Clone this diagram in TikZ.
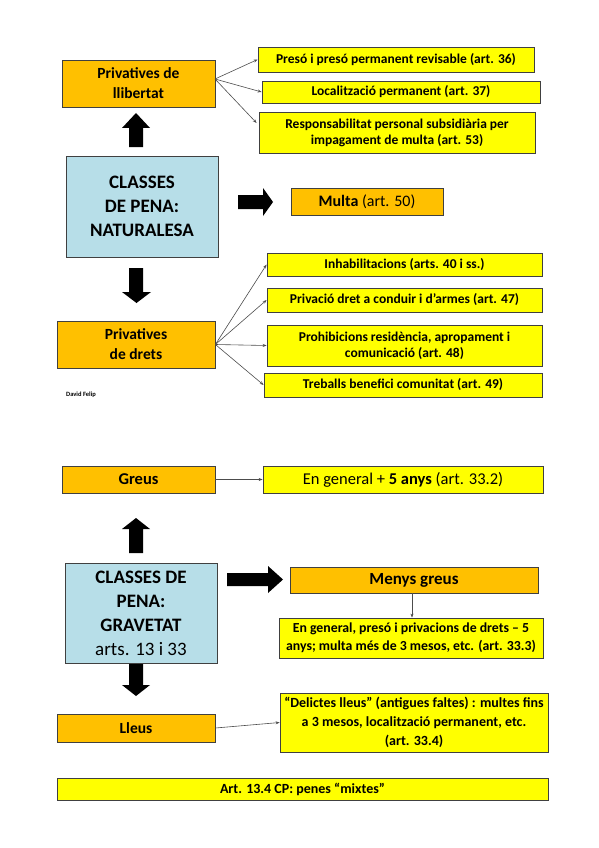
\documentclass[tikz,border=0pt]{standalone}
\usepackage{fontspec}
\setmainfont{Carlito}
\usetikzlibrary{arrows.meta,calc}
\definecolor{orng}{HTML}{FFC000}
\definecolor{ylw}{HTML}{FFFF00}
\definecolor{lblue}{HTML}{B7DEE8}
\begin{document}
\begin{tikzpicture}[x=1pt,y=-1pt,
  box/.style={draw=black!75, line width=0.8pt, inner sep=1pt, align=center},
  obox/.style={box, fill=orng, font=\fontsize{15.5}{20}\selectfont\bfseries},
  ybox/.style={box, fill=ylw, font=\fontsize{13.5}{16}\selectfont\bfseries},
  bbox/.style={box, fill=lblue, font=\fontsize{19}{24}\selectfont},
  con/.style={draw=black!70, line width=0.6pt, -{Stealth[length=4pt,width=3pt]}},
  blk/.style={fill=black}]
\useasboundingbox (0,0) rectangle (599,848);
% ---------- NATURALESA ----------
\node[obox, minimum width=153pt, minimum height=47pt] (pl) at (138.5,83.5) {Privatives de\\llibertat};
\node[ybox, minimum width=276pt, minimum height=25pt] (p1) at (396,59.5) {Presó i presó permanent revisable (art. 36)};
\node[ybox, minimum width=278pt, minimum height=22pt] (p2) at (401,92) {Localització permanent (art. 37)};
\node[ybox, minimum width=276pt, minimum height=41pt] (p3) at (397,132.5) {Responsabilitat personal subsidiària per\\impagament de multa (art. 53)};
\node[bbox, minimum width=152pt, minimum height=101pt] (nat) at (142,206.5) {\bfseries CLASSES\\\bfseries DE PENA:\\\bfseries NATURALESA};
\node[box, fill=orng, minimum width=152pt, minimum height=27pt, font=\fontsize{16}{19}\selectfont] (multa) at (367,201.5) {\textbf{Multa} (art. 50)};
\node[obox, minimum width=158pt, minimum height=47pt] (pd) at (136,344.5) {Privatives\\de drets};
\node[ybox, minimum width=275pt, minimum height=23pt] (d1) at (404.5,264.5) {Inhabilitacions (arts. 40 i ss.)};
\node[ybox, minimum width=275pt, minimum height=24pt] (d2) at (404.5,300) {Privació dret a conduir i d’armes (art. 47)};
\node[ybox, minimum width=275pt, minimum height=41pt] (d3) at (404.5,345.5) {Prohibicions residència, apropament i\\comunicació (art. 48)};
\node[ybox, minimum width=278pt, minimum height=24pt] (d4) at (403,385) {Treballs benefici comunitat (art. 49)};
\node[anchor=west, inner sep=0pt, font=\fontsize{6.5}{8}\selectfont\bfseries] (author) at (66,394.5) {David Felip};
\coordinate (po) at (215,79);
\draw[con] (po) -- (p1.west);
\draw[con] (po) -- (p2.west);
\draw[con] (po) -- ($(p3.west)+(-2,-9.5)$);
\draw[con] (pd.east) -- (d1.west);
\draw[con] (pd.east) -- (d2.west);
\draw[con] (pd.east) -- (d3.west);
\draw[con] (pd.east) -- (d4.west);
\fill[blk] (129,147) -- (129,128) -- (122,128) -- (136,113) -- (150,128) -- (143,128) -- (143,147) -- cycle;
\fill[blk] (238,195) -- (263,195) -- (263,188) -- (273,202) -- (263,216) -- (263,209) -- (238,209) -- cycle;
\fill[blk] (129,268) -- (143,268) -- (143,292) -- (151,292) -- (136.5,303) -- (122,292) -- (129,292) -- cycle;
% ---------- GRAVETAT ----------
\node[obox, minimum width=153pt, minimum height=27pt, font=\fontsize{16.5}{19}\selectfont\bfseries] (greus) at (138.5,479.5) {Greus};
\node[box, fill=ylw, minimum width=280pt, minimum height=27pt, font=\fontsize{16.5}{19}\selectfont] (g1) at (403,479.5) {En general + \textbf{5 anys} (art. 33.2)};
\node[bbox, minimum width=152pt, minimum height=100pt] (grav) at (141,613) {\bfseries CLASSES DE\\\bfseries PENA:\\\bfseries GRAVETAT\\arts. 13 i 33};
\node[obox, minimum width=248pt, minimum height=26pt, font=\fontsize{17}{19}\selectfont\bfseries] (menys) at (414,580) {Menys greus};
\node[ybox, minimum width=264pt, minimum height=40pt, font=\fontsize{13.8}{18}\selectfont\bfseries] (m1) at (411,638) {En general, presó i privacions de drets – 5\\anys; multa més de 3 mesos, etc. (art. 33.3)};
\node[obox, minimum width=158pt, minimum height=28pt, font=\fontsize{15.5}{18}\selectfont\bfseries] (lleus) at (136,728) {Lleus};
\node[ybox, minimum width=268pt, minimum height=59pt, font=\fontsize{14}{19}\selectfont\bfseries] (l1) at (414,722.5) {“Delictes lleus” (antigues faltes) : multes fins\\a 3 mesos, localització permanent, etc.\\(art. 33.4)};
\node[ybox, minimum width=491pt, minimum height=22pt, font=\fontsize{14}{16}\selectfont\bfseries] (mix) at (302.5,789) {Art. 13.4 CP: penes “mixtes”};
\draw[con] (greus.east) -- (g1.west);
\draw[con] ($(menys.south)+(-2,0)$) -- ($(m1.north)+(1,0)$);
\draw[con] (lleus.east) -- (l1.west);
\fill[blk] (129,553) -- (129,529) -- (122,529) -- (136,518) -- (150,529) -- (143,529) -- (143,553) -- cycle;
\fill[blk] (227,573) -- (268,573) -- (268,566) -- (283,579.5) -- (268,593) -- (268,586) -- (227,586) -- cycle;
\fill[blk] (129,664) -- (143,664) -- (143,685) -- (150,685) -- (136,696) -- (122,685) -- (129,685) -- cycle;
\end{tikzpicture}
\end{document}
